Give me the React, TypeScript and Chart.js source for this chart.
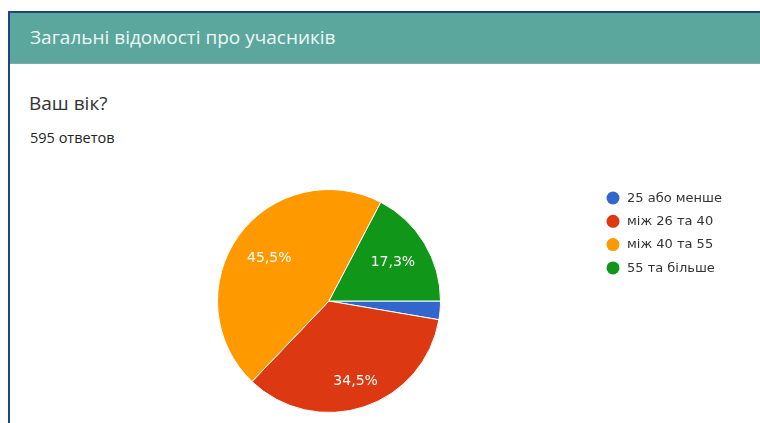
import React, { useEffect, useRef } from "react";
import { Chart, registerables } from "chart.js";

Chart.register(...registerables);

const categories = ["25 або менше", "між 26 та 40", "між 40 та 55", "55 та більше"];
const counts = [16, 205, 271, 103];
const colors = ["#3366CC", "#DC3912", "#FF9900", "#109618"];
const totalText = "595 ответов";
const sectionTitle = "Загальні відомості про учасників";
const questionTitle = "Ваш вік?";

const labelFractions = [0.7, 0.76, 0.66, 0.67];

const sliceLabels = {
  id: "sliceLabels",
  afterDatasetsDraw(chart: any) {
    const ctx = chart.ctx;
    const meta = chart.getDatasetMeta(0);
    const data = chart.data.datasets[0].data as number[];
    const total = data.reduce((a, b) => a + b, 0);
    ctx.save();
    ctx.font = "14px 'DejaVu Sans', Verdana, sans-serif";
    ctx.fillStyle = "#ffffff";
    ctx.textAlign = "center";
    ctx.textBaseline = "middle";
    meta.data.forEach((arc: any, i: number) => {
      const pct = (data[i] / total) * 100;
      if (pct < 5) return;
      const p = arc.getProps(["x", "y", "startAngle", "endAngle", "outerRadius"], true);
      const mid = (p.startAngle + p.endAngle) / 2;
      const r = p.outerRadius * labelFractions[i];
      const x = p.x + Math.cos(mid) * r;
      const y = p.y + Math.sin(mid) * r;
      ctx.fillText(pct.toFixed(1).replace(".", ",") + "%", x, y);
    });
    ctx.restore();
  },
};

const sideLegend = {
  id: "sideLegend",
  afterDraw(chart: any) {
    const ctx = chart.ctx;
    const labels = chart.data.labels as string[];
    const bg = chart.data.datasets[0].backgroundColor as string[];
    ctx.save();
    ctx.font = "13px 'DejaVu Sans', Verdana, sans-serif";
    ctx.textBaseline = "middle";
    ctx.textAlign = "left";
    labels.forEach((lab, i) => {
      const y = 198 + i * 23.3;
      ctx.beginPath();
      ctx.arc(613, y, 6.5, 0, Math.PI * 2);
      ctx.fillStyle = bg[i];
      ctx.fill();
      ctx.fillStyle = "#333333";
      ctx.fillText(lab, 627, y + 0.5);
    });
    ctx.restore();
  },
};

export default function App() {
  const ref = useRef<HTMLCanvasElement | null>(null);
  useEffect(() => {
    if (!ref.current) return;
    const chart = new Chart(ref.current, {
      type: "pie",
      data: {
        labels: categories,
        datasets: [
          {
            data: counts,
            backgroundColor: colors,
            borderColor: "#ffffff",
            borderWidth: 1,
          },
        ],
      },
      options: {
        animation: false,
        responsive: false,
        rotation: 90,
        layout: { padding: { left: 217, right: 319, top: 189, bottom: 10 } },
        plugins: {
          legend: { display: false },
          tooltip: { enabled: false },
        },
      },
      plugins: [sliceLabels, sideLegend],
    });
    return () => chart.destroy();
  }, []);

  return (
    <div
      style={{
        position: "fixed",
        left: 0,
        top: 0,
        width: 760,
        height: 423,
        overflow: "hidden",
        background: "#ffffff",
        fontFamily: "Roboto, 'Noto Sans', Arial, sans-serif",
      }}
    >
      <div style={{ position: "absolute", left: 8, top: 11, width: 752, height: 2, background: "#1F4580" }} />
      <div style={{ position: "absolute", left: 8, top: 11, width: 2, height: 412, background: "#1F4580" }} />
      <div
        style={{
          position: "absolute",
          left: 10,
          top: 13,
          width: 750,
          height: 50,
          background: "#5BA79E",
          borderBottom: "1px solid #7FA9A3",
        }}
      />
      <div
        style={{
          position: "absolute",
          left: 30,
          top: 24,
          fontSize: 19,
          fontFamily: "'Open Sans', sans-serif",
          color: "#EEF7F5",
          whiteSpace: "nowrap",
          lineHeight: "26px",
        }}
      >
        {sectionTitle}
      </div>
      <div
        style={{
          position: "absolute",
          left: 29,
          top: 90,
          fontSize: 19,
          fontFamily: "'Open Sans', sans-serif",
          color: "#333333",
          whiteSpace: "nowrap",
          lineHeight: "26px",
        }}
      >
        {questionTitle}
      </div>
      <div
        style={{
          position: "absolute",
          left: 30,
          top: 128,
          fontSize: 14.5,
          fontFamily: "'Open Sans', sans-serif",
          fontWeight: 500,
          color: "#222222",
          whiteSpace: "nowrap",
          lineHeight: "20px",
        }}
      >
        {totalText}
      </div>
      <canvas ref={ref} width={760} height={423} style={{ position: "absolute", left: 0, top: 0, width: 760, height: 423 }} />
    </div>
  );
}
